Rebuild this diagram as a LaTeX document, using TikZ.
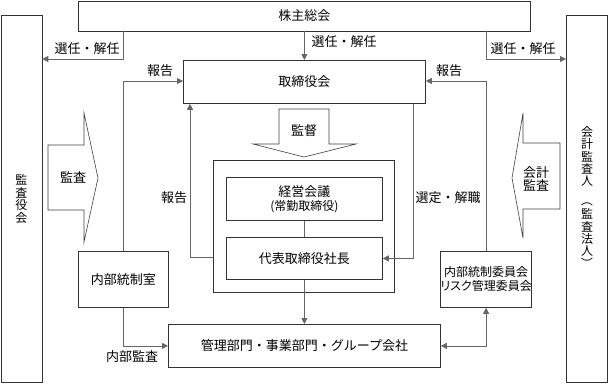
\documentclass[tikz,border=0pt]{standalone}
\usepackage{graphicx}
\usepackage{fontspec}
\setmainfont{Noto Sans CJK JP}
\newfontfamily\jpprop{Noto Sans CJK JP}[RawFeature=+palt]
\usetikzlibrary{arrows.meta}
\newcommand{\vparL}{\rotatebox[origin=c]{-90}{（}}
\newcommand{\vparR}{\rotatebox[origin=c]{-90}{）}}
\begin{document}
\begin{tikzpicture}[x=1pt,y=-1pt,
  box/.style={draw=black!80, line width=0.8pt, fill=white, inner sep=0pt, anchor=north west, align=center, font=\fontsize{13}{15}\selectfont},
  conn/.style={draw=black!60, line width=0.8pt},
  arr/.style={conn, -{Triangle[length=6pt,width=6pt]}},
  dbl/.style={conn, {Triangle[length=6pt,width=6pt]}-{Triangle[length=6pt,width=6pt]}},
  lbl/.style={inner sep=0pt, font=\fontsize{13}{15}\selectfont},
  vlbl/.style={inner sep=0pt, align=center, font=\fontsize{12}{12.4}\selectfont},
  blk/.style={draw=black!75, line width=0.6pt, fill=white, line join=miter}
]
\useasboundingbox (0,0) rectangle (609,383);

% boxes
\node[box, minimum width=452pt, minimum height=30pt] (kabu) at (78,0.5) {株主総会};
\node[box, minimum width=41pt, minimum height=367pt] (kansayaku) at (0.5,15) {};
\node[box, minimum width=41pt, minimum height=367pt] (kaikei) at (566,15) {};
\node[box, minimum width=242pt, minimum height=43pt] (torishimari) at (183,60) {取締役会};
\node[box, minimum width=181pt, minimum height=132pt] (encl) at (213,160) {};
\node[box, minimum width=156pt, minimum height=43pt] (keiei) at (226,177) {経営会議\\[-1pt]{\fontsize{12}{14}\selectfont (常勤取締役)}};
\node[box, minimum width=156pt, minimum height=42pt] (daihyo) at (226,237) {代表取締役社長};
\node[box, minimum width=90pt, minimum height=56pt] (naibu) at (78,251) {内部統制室};
\node[box, minimum width=272pt, minimum height=43pt] (kanri) at (168,324) {管理部門・事業部門・グループ会社};
\node[box, minimum width=91pt, minimum height=56pt, font=\fontsize{12}{14}\selectfont] (iinkai) at (440,251) {内部統制委員会\\{\jpprop リスク管理委員会}};

% vertical texts
\node[vlbl] (tKansayaku) at (kansayaku.center) {監\\査\\役\\会};
\node[vlbl, anchor=north] (tKaikei) at (587,126) {会\\計\\監\\査\\人\\[7pt]\vparL\\[1pt]監\\査\\法\\人\\\vparR};

% bend levels
\coordinate (yS) at (0,59);
\coordinate (yR) at (0,81);
\coordinate (yInner) at (0,257);
\coordinate (xInner) at (190,0);
\coordinate (xSentei) at (413,0);

% connectors
\draw[arr] (kabu.south -| naibu.north) |- (kansayaku.east |- yS);
\draw[arr] (kabu.south) -- (torishimari.north);
\draw[arr] (kabu.south -| iinkai.north) |- (kaikei.west |- yS);
\draw[arr] (naibu.north) |- (torishimari.west |- yR);
\draw[arr] (iinkai.north) |- (torishimari.east |- yR);
\draw[arr] (encl.west |- yInner) -| (torishimari.south -| xInner);
\draw[arr] (torishimari.south -| xSentei) |- (daihyo.east);
\draw[conn] (keiei.south) -- (daihyo.north);
\draw[arr] (daihyo.south) -- (kanri.north);
\draw[arr] (naibu.south) |- (kanri.west);
\draw[dbl] (kanri.east) -| (iinkai.south);

% labels
\node[lbl] (lSelL) at (87,49) {選任・解任};
\node[lbl] (lSelM) at (344,42) {選任・解任};
\node[lbl] (lSelR) at (523,49) {選任・解任};
\node[lbl] (lRepL) at (160,71) {報告};
\node[lbl] (lRepR) at (449,71) {報告};
\node[lbl] (lRepI) at (174,198) {報告};
\node[lbl] (lSentei) at (448,198) {選定・解職};
\node[lbl] (lNaibu) at (132,357) {内部監査};

% block arrows
\draw[blk] (279,109) -- (329,109) -- (329,144) -- (356,144) -- (304,157) -- (253,144) -- (279,144) -- cycle;
\node[lbl] (tKantoku) at (304,131) {監督};
\draw[blk] (48,145) -- (84,145) -- (84,113) -- (98,178) -- (84,242) -- (84,210) -- (48,210) -- cycle;
\node[lbl] (tKansa) at (73,177) {監査};
\draw[blk] (560,143) -- (523,143) -- (523,113) -- (512,178) -- (523,238) -- (523,209) -- (560,209) -- cycle;
\node[lbl, align=center, font=\fontsize{13}{13.5}\selectfont] (tKaikeiKansa) at (536,179) {会計\\監査};
\end{tikzpicture}
\end{document}
